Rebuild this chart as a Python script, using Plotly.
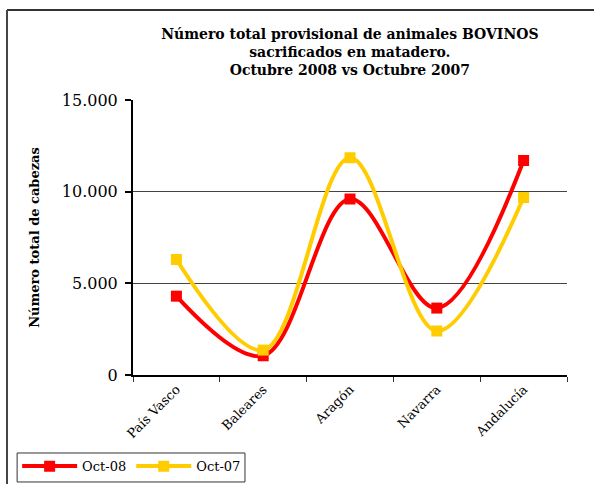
import plotly.graph_objects as go

# Comunidades autónomas y cabezas sacrificadas
regiones = ["País Vasco", "Baleares", "Aragón", "Navarra", "Andalucía"]
oct_08 = [4300, 1050, 9600, 3650, 11700]
oct_07 = [6300, 1360, 11850, 2400, 9680]
y_ticks = [0, 5000, 10000, 15000]
y_tick_text = ["0", "5.000", "10.000", "15.000"]

FONT = "DejaVu Serif"

fig = go.Figure()
fig.add_trace(go.Scatter(
    x=regiones, y=oct_08, name="Oct-08", mode="lines+markers",
    line=dict(color="#FF0000", width=4, shape="spline", smoothing=1.0),
    marker=dict(symbol="square", size=11, color="#FF0000"),
))
fig.add_trace(go.Scatter(
    x=regiones, y=oct_07, name="Oct-07", mode="lines+markers",
    line=dict(color="#FFCC00", width=4, shape="spline", smoothing=1.0),
    marker=dict(symbol="square", size=11, color="#FFCC00"),
))

# Marco exterior del gráfico (izquierda y arriba)
fig.add_shape(type="line", xref="paper", yref="paper",
              x0=-0.2903, x1=1.1, y0=1.327, y1=1.327,
              line=dict(color="#333333", width=2))
fig.add_shape(type="line", xref="paper", yref="paper",
              x0=-0.2903, x1=-0.2903, y0=1.327, y1=-0.5,
              line=dict(color="#444444", width=2))
# Recuadro de la leyenda
fig.add_shape(type="rect", xref="paper", yref="paper",
              x0=-0.267, x1=0.258, y0=-0.389, y1=-0.2836,
              line=dict(color="#333333", width=1))

fig.update_layout(
    width=594, height=484,
    margin=dict(l=133, r=27, t=100, b=109, autoexpand=False),
    paper_bgcolor="white", plot_bgcolor="white",
    font=dict(family=FONT, color="black"),
    title=dict(
        text="<b>Número total provisional de animales BOVINOS<br>"
             "sacrificados en matadero.<br>Octubre 2008 vs Octubre 2007</b>",
        x=0.589, xanchor="center", y=0.92, yanchor="top",
        font=dict(family=FONT, size=14, color="black"),
    ),
    showlegend=True,
    legend=dict(
        orientation="h", x=-0.267, y=-0.277, xanchor="left", yanchor="top",
        borderwidth=0, bgcolor="rgba(0,0,0,0)",
        font=dict(family=FONT, size=13, color="black"),
        itemwidth=55, tracegroupgap=0,
    ),
)

fig.update_xaxes(
    type="category", showgrid=False, showline=True, linecolor="black", linewidth=1.5,
    ticks="outside", tickson="boundaries", ticklen=5, tickcolor="#333333",
    tickangle=-45, tickfont=dict(family=FONT, size=13, color="black"),
    range=[-0.5, 4.5], automargin=False,
)
fig.update_yaxes(
    range=[0, 15000], tickvals=y_ticks, ticktext=y_tick_text,
    showgrid=True, gridcolor="#444444", gridwidth=1,
    showline=True, linecolor="black", linewidth=2,
    ticks="outside", ticklen=6, tickcolor="black", tickwidth=2,
    ticklabelstandoff=4,
    tickfont=dict(family=FONT, size=16, color="black"),
    zeroline=False, automargin=False,
    title=dict(text="<b>Número total de cabezas</b>",
               font=dict(family=FONT, size=13, color="black"), standoff=19),
)

fig.write_html("out.html")
